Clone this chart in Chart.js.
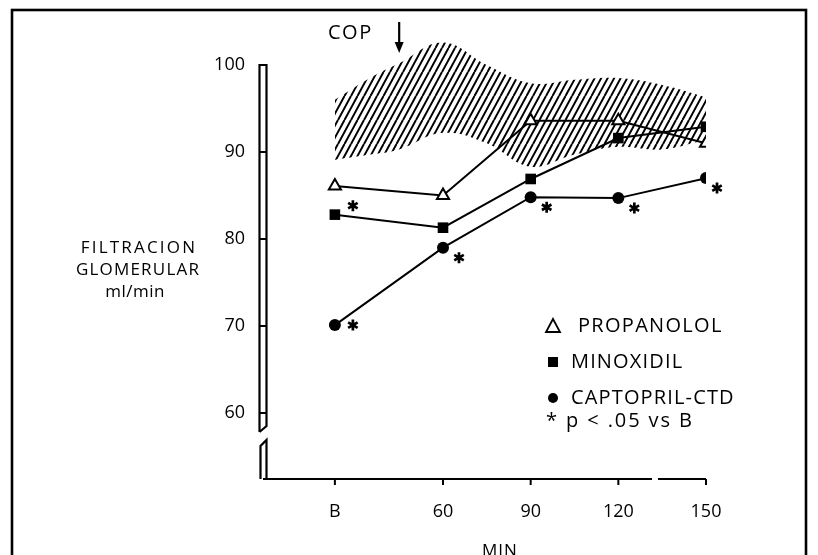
<!DOCTYPE html>
<html><head><meta charset="utf-8">
<script src="https://cdn.jsdelivr.net/npm/chart.js@4"></script>
<style>html,body{margin:0;padding:0;background:#fff}canvas{display:block}</style>
</head><body>
<div style="width:818px;height:555px;position:relative"><canvas id="c" width="818" height="555"></canvas></div>
<script>
// ---- data ----
const timePoints = [23, 60, 90, 120, 150];          // B = basal, then minutes
const timeLabels = ['B', '60', '90', '120', '150'];
const yTicks = [60, 70, 80, 90, 100];
const propanolol = [86.1, 85.0, 93.6, 93.6, 91.0];
const minoxidil  = [82.8, 81.3, 86.9, 91.6, 92.9];
const captopril  = [70.1, 79.0, 84.8, 84.7, 87.0];
const minoxidilSig = [true, false, false, false, false];
const captoprilSig = [true, true, true, true, true];
const bandTimes = [23, 35, 45, 60, 75, 90, 105, 120, 135, 150];
const bandUpper = [96.0, 98.5, 100.2, 102.6, 100.0, 97.9, 98.3, 98.5, 97.7, 96.3];
const bandLower = [89.1, 89.7, 90.3, 92.2, 91.0, 88.3, 89.7, 90.6, 90.3, 91.4];
const copTime = 45;
const legendItems = ['PROPANOLOL', 'MINOXIDIL', 'CAPTOPRIL-CTD'];
const sigNote = '* p < .05 vs B';
const yTitle = ['FILTRACION', 'GLOMERULAR', 'ml/min'];
const xTitle = 'MIN';

const FONT = '"Open Sans", "DejaVu Sans", sans-serif';
const pts = (arr) => timePoints.map((t, i) => ({x: t, y: arr[i]}));
const band = (arr) => bandTimes.map((t, i) => ({x: t, y: arr[i]}));

function hatchPattern(ctx) {
  const w = 6.5;
  const c = document.createElement('canvas'); c.width = 13; c.height = 24;
  const x = c.getContext('2d');
  x.strokeStyle = '#000'; x.lineWidth = 2;
  x.beginPath();
  for (let k = -3; k <= 3; k++) { x.moveTo(k * w, 24); x.lineTo(k * w + 13, 0); }
  x.stroke();
  return ctx.createPattern(c, 'repeat');
}

const ctx = document.getElementById('c').getContext('2d');

function txt(c, s, x, y, size, align, spacing) {
  c.save();
  c.font = size + 'px ' + FONT;
  c.fillStyle = '#000';
  c.textAlign = align || 'left';
  c.textBaseline = 'middle';
  c.letterSpacing = (spacing || 0) + 'px';
  c.fillText(s, x, y);
  c.restore();
}

function asterisk(c, x, y) {
  const r = 5.5;
  c.save();
  c.lineWidth = 2.7; c.lineCap = 'butt';
  c.beginPath();
  for (let k = 0; k < 3; k++) {
    const a = Math.PI / 2 + k * Math.PI / 3;
    c.moveTo(x - r * Math.cos(a), y - r * Math.sin(a));
    c.lineTo(x + r * Math.cos(a), y + r * Math.sin(a));
  }
  c.stroke();
  c.restore();
}

const decor = {
  id: 'decor',
  afterDraw(chart) {
    const c = chart.ctx, xs = chart.scales.x, ys = chart.scales.y;
    c.save();
    c.strokeStyle = '#000'; c.fillStyle = '#000';
    // frame
    c.lineWidth = 2.6;
    c.strokeRect(12, 10, 794, 600);
    // y axis as double bar with break
    const ax = xs.left;
    const L = ax - 3.5, R = ax + 3.5;
    const yTop = ys.getPixelForValue(100);
    const bottom = ys.bottom;
    c.lineWidth = 2.2;
    c.beginPath();
    c.moveTo(L, 432); c.lineTo(L, yTop); c.lineTo(R, yTop); c.lineTo(R, 426); c.lineTo(L, 432);
    c.stroke();
    c.beginPath();
    c.moveTo(L + 1, bottom); c.lineTo(L + 1, 446); c.lineTo(R, 440); c.lineTo(R, bottom);
    c.stroke();
    c.beginPath();
    for (const v of yTicks) {
      if (v === 100) continue;
      const y = ys.getPixelForValue(v);
      c.moveTo(L, y); c.lineTo(R, y);
    }
    c.stroke();
    // x axis with break
    c.lineWidth = 2;
    c.beginPath();
    c.moveTo(ax, bottom); c.lineTo(652, bottom);
    c.moveTo(658, bottom); c.lineTo(xs.getPixelForValue(150), bottom);
    for (const t of timePoints) {
      const x = xs.getPixelForValue(t);
      c.moveTo(x, bottom); c.lineTo(x, bottom + 6);
    }
    c.stroke();
    // axis titles
    txt(c, yTitle[0], 139, 248, 17, 'center', 2.2);
    txt(c, yTitle[1], 138, 270, 17, 'center', 1.2);
    txt(c, yTitle[2], 135, 292, 17, 'center', 0.5);
    txt(c, xTitle, 500, 551, 17, 'center', 1);
    // COP arrow
    const cx = xs.getPixelForValue(copTime);
    txt(c, 'COP', 328, 33, 20, 'left', 1.5);
    c.lineWidth = 2.2;
    c.beginPath(); c.moveTo(cx, 22); c.lineTo(cx, 48); c.stroke();
    c.beginPath(); c.moveTo(cx - 4.5, 42); c.lineTo(cx + 4.5, 42); c.lineTo(cx, 53); c.closePath(); c.fill();
    // significance asterisks
    const drawSig = (dsIndex, flags) => {
      const meta = chart.getDatasetMeta(dsIndex);
      meta.data.forEach((p, i) => {
        if (!flags[i]) return;
        let dx = 16, dy = 10;
        if (i === 0) { dx = 18; dy = dsIndex === 3 ? -9 : 0; }
        if (i === 4) { dx = 11; dy = 10; }
        asterisk(c, p.x + dx, p.y + dy);
      });
    };
    drawSig(3, minoxidilSig);
    drawSig(4, captoprilSig);
    // legend
    const mx = 553;
    c.lineWidth = 1.8;
    c.beginPath(); c.moveTo(mx - 7, 332); c.lineTo(mx + 7, 332); c.lineTo(mx, 319); c.closePath(); c.stroke();
    txt(c, legendItems[0], 578, 326, 20, 'left', 1.3);
    c.fillRect(mx - 5, 357, 10, 10);
    txt(c, legendItems[1], 571, 362, 20, 'left', 1.15);
    c.beginPath(); c.arc(mx, 398, 5, 0, Math.PI * 2); c.fill();
    txt(c, legendItems[2], 571, 398, 20, 'left', 1.15);
    txt(c, sigNote, 546, 421, 20, 'left', 1.9);
    c.restore();
  }
};

new Chart(ctx, {
  type: 'line',
  data: {
    datasets: [
      {data: band(bandLower), borderWidth: 0, pointRadius: 0, fill: false, tension: 0.4, borderColor: 'rgba(0,0,0,0)'},
      {data: band(bandUpper), borderWidth: 0, pointRadius: 0, fill: '-1', tension: 0.4, borderColor: 'rgba(0,0,0,0)', backgroundColor: hatchPattern(ctx)},
      {label: 'PROPANOLOL', data: pts(propanolol), borderColor: '#000', borderWidth: 2, pointStyle: 'triangle', pointRadius: 7, pointBorderWidth: 2, pointBackgroundColor: '#fff', pointBorderColor: '#000', fill: false},
      {label: 'MINOXIDIL', data: pts(minoxidil), borderColor: '#000', borderWidth: 2, pointStyle: 'rect', pointRadius: 7.5, pointBorderWidth: 0, pointBackgroundColor: '#000', fill: false},
      {label: 'CAPTOPRIL-CTD', data: pts(captopril), borderColor: '#000', borderWidth: 2, pointStyle: 'circle', pointRadius: 6, pointBorderWidth: 0, pointBackgroundColor: '#000', fill: false}
    ]
  },
  options: {
    responsive: false,
    animation: false,
    layout: {padding: {top: 13, right: 112, left: 0, bottom: 0}},
    plugins: {legend: {display: false}, tooltip: {enabled: false}, filler: {drawTime: 'beforeDatasetsDraw'}},
    scales: {
      x: {
        type: 'linear', min: -1.6, max: 150,
        grid: {display: false, drawTicks: false}, border: {display: false},
        afterBuildTicks: (s) => { s.ticks = timePoints.map(v => ({value: v})); },
        afterFit: (s) => { s.height = 76; s.paddingLeft = 0; s.paddingRight = 0; },
        ticks: {autoSkip: false, maxRotation: 0, padding: 22, color: '#000', font: {family: FONT, size: 18},
          callback: (v) => timeLabels[timePoints.indexOf(v)]}
      },
      y: {
        type: 'linear', min: 52.41, max: 105.98,
        grid: {display: false, drawTicks: false}, border: {display: false},
        afterBuildTicks: (s) => { s.ticks = yTicks.map(v => ({value: v})); },
        afterFit: (s) => { s.width = 263; s.paddingTop = 0; s.paddingBottom = 0; },
        ticks: {padding: 18, color: '#000', font: {family: FONT, size: 18}}
      }
    }
  },
  plugins: [decor]
});
</script>
</body></html>
